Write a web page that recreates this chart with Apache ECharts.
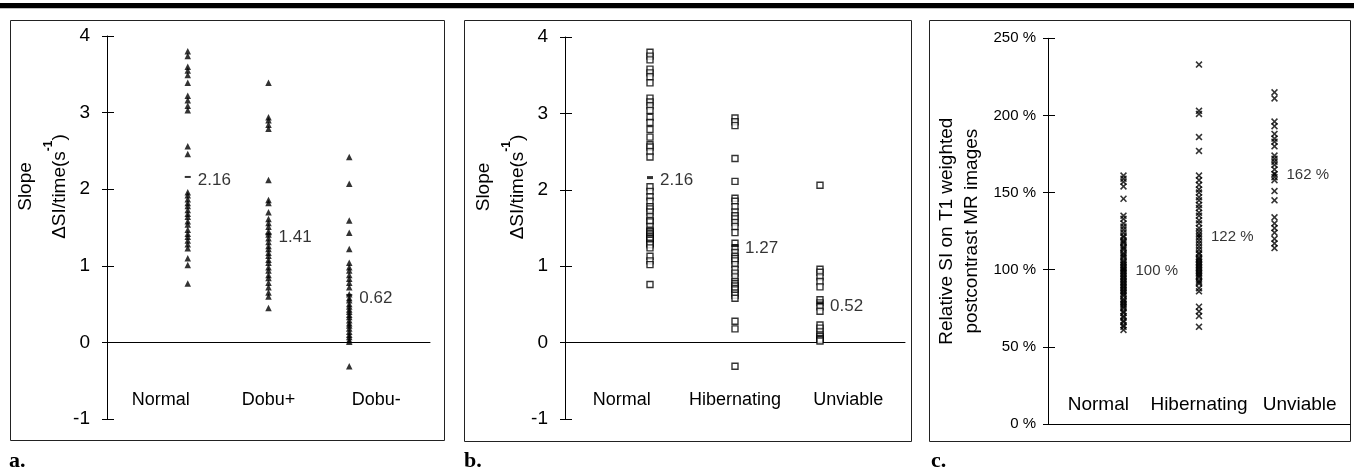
<!DOCTYPE html>
<html><head><meta charset="utf-8">
<script src="https://cdn.jsdelivr.net/npm/echarts@6/dist/echarts.min.js"></script>
<style>html,body{margin:0;padding:0;background:#fff}#c{width:1354px;height:471px}</style>
</head><body><div id="c"></div>
<script>
// ---------- data ----------
const catsA = ['Normal', 'Dobu+', 'Dobu-'];
const catsB = ['Normal', 'Hibernating', 'Unviable'];
const catsC = ['Normal', 'Hibernating', 'Unviable'];

const ticksAB = { min: -1, max: 4, interval: 1 };
const ticksC = { min: 0, max: 250, interval: 50 };

const aNormal = [3.80, 3.74, 3.60, 3.55, 3.49, 3.39, 3.22, 3.16, 3.09, 3.03, 2.56, 2.46, 1.96, 1.92, 1.87, 1.82, 1.78, 1.73, 1.68, 1.64, 1.58, 1.54, 1.47, 1.42, 1.38, 1.33, 1.28, 1.23, 1.10, 1.01, 0.77];
const aDobuPlus = [3.39, 2.94, 2.90, 2.84, 2.79, 2.12, 1.86, 1.82, 1.70, 1.61, 1.56, 1.51, 1.45, 1.41, 1.36, 1.31, 1.26, 1.22, 1.17, 1.13, 1.08, 1.04, 0.98, 0.94, 0.88, 0.84, 0.78, 0.72, 0.65, 0.60, 0.45];
const aDobuMinus = [2.42, 2.07, 1.59, 1.43, 1.22, 1.04, 0.98, 0.94, 0.88, 0.83, 0.78, 0.72, 0.63, 0.58, 0.55, 0.50, 0.47, 0.43, 0.40, 0.36, 0.33, 0.29, 0.25, 0.22, 0.18, 0.14, 0.10, 0.07, 0.03, 0.01, -0.31];
const aMeans = [2.16, 1.41, 0.62];

const bNormal = [3.80, 3.75, 3.70, 3.58, 3.53, 3.48, 3.40, 3.20, 3.15, 3.10, 3.04, 2.95, 2.88, 2.79, 2.69, 2.59, 2.56, 2.50, 2.43, 2.04, 1.98, 1.91, 1.85, 1.78, 1.75, 1.71, 1.65, 1.60, 1.58, 1.52, 1.47, 1.45, 1.43, 1.41, 1.39, 1.37, 1.36, 1.34, 1.30, 1.28, 1.24, 1.13, 1.07, 1.02, 0.76];
const bHibernating = [2.94, 2.89, 2.84, 2.41, 2.11, 1.89, 1.85, 1.78, 1.71, 1.66, 1.62, 1.57, 1.52, 1.44, 1.30, 1.24, 1.18, 1.13, 1.10, 1.07, 1.02, 0.96, 0.91, 0.86, 0.80, 0.77, 0.74, 0.71, 0.69, 0.65, 0.62, 0.58, 0.28, 0.18, -0.31];
const bUnviable = [2.06, 0.96, 0.92, 0.86, 0.80, 0.73, 0.56, 0.52, 0.47, 0.41, 0.23, 0.19, 0.14, 0.10, 0.08, 0.05, 0.04, 0.02];
const bMeans = [2.16, 1.27, 0.52];

const cNormal = [161, 159, 157, 154, 146, 135, 133, 130, 128, 126, 124, 122, 121, 119, 118, 117, 115, 114, 113, 111, 110, 109, 108, 106, 105, 104, 103, 102, 101, 100, 99, 98, 97, 96, 95, 94, 93, 92, 91, 90, 89, 88, 87, 86, 85, 84, 83, 81, 80, 79, 78, 77, 76, 75, 73, 72, 70, 69, 67, 66, 64, 63, 61];
const cHibernating = [233, 203, 201, 186, 177, 161, 158, 155, 152, 150, 147, 145, 142, 140, 137, 135, 132, 130, 127, 125, 123, 121, 119, 117, 115, 113, 111, 110, 108, 107, 106, 105, 104, 103, 102, 101, 100, 99, 98, 97, 96, 95, 93, 92, 91, 88, 86, 76, 73, 70, 63];
const cUnviable = [215, 211, 196, 193, 188, 185, 183, 180, 174, 172, 170, 168, 165, 162, 160, 158, 151, 145, 134, 130, 127, 124, 120, 117, 114];
const cMeans = [100, 122, 162];

// ---------- styling ----------
const FONT = 'Liberation Sans, Arial, Helvetica, sans-serif';
const SERIF = 'Liberation Serif, Times New Roman, serif';
const INK = '#000';
const CROSS = 'path://M0,1.6L1.6,0L5,3.4L8.4,0L10,1.6L6.6,5L10,8.4L8.4,10L5,6.6L1.6,10L0,8.4L3.4,5Z';

const grids = [
  { left: 107, top: 36, width: 323, height: 383 },
  { left: 565, top: 37, width: 340, height: 382 },
  { left: 1048, top: 38.3, width: 302, height: 385.7 }
];

function mainY(g, ticks, extra) {
  return Object.assign({
    gridIndex: g, type: 'value', min: ticks.min, max: ticks.max, interval: ticks.interval, position: 'left',
    axisLine: { show: true, onZero: false, lineStyle: { color: INK, width: 1 } },
    axisTick: { show: true, inside: false, length: 5, lineStyle: { color: INK, width: 1 } },
    axisLabel: { fontSize: 19, color: INK, margin: 17, fontFamily: FONT },
    splitLine: { show: false },
    nameLocation: 'middle', nameRotate: 90
  }, extra);
}
function innerY(g, ticks) {
  return {
    gridIndex: g, type: 'value', min: ticks.min, max: ticks.max, interval: ticks.interval, position: 'left',
    axisLine: { show: false, onZero: false },
    axisTick: { show: true, inside: true, length: 7, lineStyle: { color: INK, width: 1 } },
    axisLabel: { show: false }, splitLine: { show: false }
  };
}
function valX(g, yi) {
  return {
    gridIndex: g, type: 'value', min: 0, max: 4, interval: 1, position: 'top',
    axisLine: { show: true, onZero: true, onZeroAxisIndex: yi, lineStyle: { color: INK, width: 1 } },
    axisTick: { show: false }, axisLabel: { show: false }, splitLine: { show: false }
  };
}
function catX(g, cats, size) {
  return {
    gridIndex: g, type: 'category', data: cats, position: 'bottom',
    axisLine: { show: false }, axisTick: { show: false }, splitLine: { show: false },
    axisLabel: { inside: true, margin: 10, fontSize: size, color: INK, fontFamily: FONT, interval: 0 }
  };
}
function pts(g, idx, values, sym, size, style) {
  return {
    type: 'scatter', xAxisIndex: g * 2, yAxisIndex: g * 2, symbol: sym, symbolSize: size,
    itemStyle: style, silent: true, animation: false, z: 2,
    data: values.map(v => [idx + 1, v])
  };
}
function means(g, values, sym, size, fmt, fsize, dist, off) {
  return {
    type: 'scatter', xAxisIndex: g * 2, yAxisIndex: g * 2, symbol: sym, symbolSize: size,
    itemStyle: { color: INK }, silent: true, animation: false, z: 5,
    label: { show: true, position: 'right', distance: dist, offset: off, formatter: p => fmt(p.value[1]),
      fontSize: fsize, color: INK, fontFamily: FONT },
    data: values.map((v, i) => [i + 1, v])
  };
}

const richAB = {
  t: { fontSize: 19, lineHeight: 34, fontFamily: FONT, color: INK },
  s: { fontSize: 12, lineHeight: 12, fontWeight: 'bold', verticalAlign: 'top', fontFamily: FONT, color: INK }
};
const nameAB = '{t|Slope}\n{t|\u0394SI/time(s}{s|-1}{t|)}';

const triStyle = { color: INK };
const sqStyle = { color: '#fff', borderColor: INK, borderWidth: 1.4 };
const crossStyle = { color: INK };
const letterStyle = { fontFamily: SERIF, fontWeight: 'bold', fontSize: 22, color: INK };

const option = {
  backgroundColor: '#fff',
  animation: false,
  grid: grids,
  title: [
    { text: 'a.', left: 9, top: 450, padding: 0, textStyle: letterStyle },
    { text: 'b.', left: 464, top: 450, padding: 0, textStyle: letterStyle },
    { text: 'c.', left: 931, top: 450, padding: 0, textStyle: letterStyle }
  ],
  xAxis: [valX(0, 0), catX(0, catsA, 18), valX(1, 2), catX(1, catsB, 18), valX(2, 4), catX(2, catsC, 19)],
  yAxis: [
    mainY(0, ticksAB, { name: nameAB, nameGap: 27, nameTextStyle: { padding: [0, 0, 0, 82], rich: richAB } }),
    innerY(0, ticksAB),
    mainY(1, ticksAB, { name: nameAB, nameGap: 27, nameTextStyle: { padding: [0, 0, 0, 82], rich: richAB } }),
    innerY(1, ticksAB),
    mainY(2, ticksC, {
      name: '{t|Relative SI on T1 weighted}\n{t|postcontrast MR images}', nameGap: 64,
      nameTextStyle: { rich: { t: { fontSize: 19, lineHeight: 25, fontFamily: FONT, color: INK } } },
      axisLabel: { fontSize: 15, color: INK, margin: 12, fontFamily: FONT, formatter: '{value} %' }
    }),
    innerY(2, ticksC)
  ],
  series: [
    pts(0, 0, aNormal, 'triangle', 6.5, triStyle),
    pts(0, 1, aDobuPlus, 'triangle', 6.5, triStyle),
    pts(0, 2, aDobuMinus, 'triangle', 6.5, triStyle),
    means(0, aMeans, 'rect', [6, 2], v => String(v), 17, 7, [0, 3]),
    pts(1, 0, bNormal, 'rect', 6, sqStyle),
    pts(1, 1, bHibernating, 'rect', 6, sqStyle),
    pts(1, 2, bUnviable, 'rect', 6, sqStyle),
    means(1, bMeans, 'rect', [6, 3], v => String(v), 17, 7, [0, 3]),
    pts(2, 0, cNormal, CROSS, 7, crossStyle),
    pts(2, 1, cHibernating, CROSS, 7, crossStyle),
    pts(2, 2, cUnviable, CROSS, 7, crossStyle),
    means(2, cMeans, 'circle', 4, v => v + ' %', 15, 10, [0, 1])
  ],
  graphic: [
    { type: 'rect', shape: { x: 0, y: 3, width: 1354, height: 5.3 }, style: { fill: INK } },
    { type: 'rect', shape: { x: 10.5, y: 20.5, width: 434, height: 420 }, style: { fill: 'none', stroke: '#222', lineWidth: 1 } },
    { type: 'rect', shape: { x: 464.5, y: 20.5, width: 447, height: 421 }, style: { fill: 'none', stroke: '#222', lineWidth: 1 } },
    { type: 'rect', shape: { x: 929.5, y: 20.5, width: 421, height: 421 }, style: { fill: 'none', stroke: '#222', lineWidth: 1 } }
  ]
};

const chart = echarts.init(document.getElementById('c'), null, { renderer: 'canvas' });
chart.setOption(option);
</script>
</body></html>
